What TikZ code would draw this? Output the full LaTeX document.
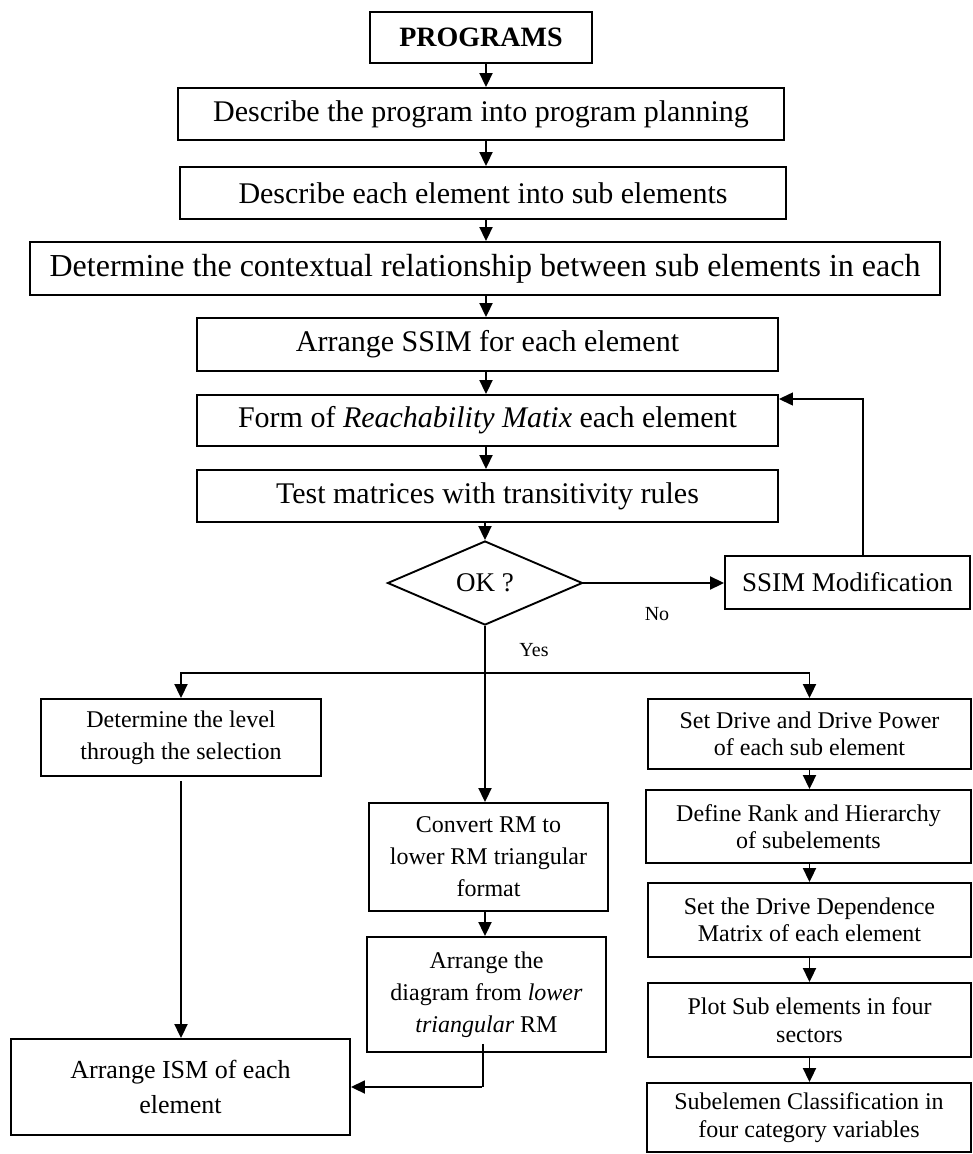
\documentclass[tikz,border=0pt]{standalone}
\usepackage{fontspec}
\setmainfont{Liberation Serif}
\usetikzlibrary{arrows.meta,shapes.geometric,calc}
\begin{document}
\begin{tikzpicture}[x=1pt,y=-1pt,
  box/.style={draw,rectangle,line width=1.9pt,inner sep=0pt,align=center},
  bigtxt/.style={font=\fontsize{30}{34}\selectfont},
  midtxt/.style={font=\fontsize{24}{32}\selectfont},
  lowtxt/.style={font=\fontsize{24}{27.5}\selectfont},
  ismtxt/.style={font=\fontsize{26}{35}\selectfont},
  labeltxt/.style={font=\fontsize{20}{22}\selectfont,inner sep=0pt},
  flow/.style={line width=1.9pt,-{Triangle[length=14pt,width=13pt]}},
  thinflow/.style={line width=1.3pt,-{Triangle[length=14pt,width=13pt]}},
  thinline/.style={line width=1.3pt}
]
\useasboundingbox (0,0) rectangle (973,1154);

% main column
\node[box,font=\fontsize{28}{32}\selectfont,minimum width=222pt,minimum height=51pt] (b1) at (481,37.5) {\textbf{PROGRAMS}};
\node[box,bigtxt,minimum width=606pt,minimum height=52pt] (b2) at (481,114) {Describe the program into program planning};
\node[box,bigtxt,minimum width=606pt,minimum height=52pt] (b3) at (483,193) {Describe each element into sub elements};
\node[box,font=\fontsize{32}{36}\selectfont,minimum width=910pt,minimum height=53pt] (b4) at (485,268.5) {Determine the contextual relationship between sub elements in each};
\node[box,bigtxt,minimum width=581pt,minimum height=53pt] (b5) at (487.5,344.5) {Arrange SSIM for each element};
\node[box,bigtxt,minimum width=581pt,minimum height=51pt] (b6) at (487.5,420.5) {Form of \textit{Reachability Matix} each element};
\node[box,bigtxt,minimum width=581pt,minimum height=52pt] (b7) at (487.5,496) {Test matrices with transitivity rules};

% decision and correction loop
\node[draw,diamond,line width=1.9pt,inner sep=0pt,minimum width=195pt,minimum height=84pt,
      font=\fontsize{27}{30}\selectfont] (d) at (485,583) {OK ?};
\node[box,font=\fontsize{27}{30}\selectfont,minimum width=245pt,minimum height=53pt] (ssim) at (847.5,582.5) {SSIM Modification};

% left branch
\node[box,midtxt,minimum width=280pt,minimum height=77pt] (l1) at (181,737.5) {Determine the level\\through the selection};
\node[box,ismtxt,minimum width=339pt,minimum height=96pt] (l2) at (180.5,1087) {Arrange ISM of each\\element};

% middle branch
\node[box,midtxt,minimum width=239pt,minimum height=108pt] (m1) at (488.5,857) {Convert RM to\\lower RM triangular\\format};
\node[box,midtxt,minimum width=239pt,minimum height=115pt] (m2) at (486.5,994.5) {Arrange the\\diagram from \textit{lower}\\\textit{triangular} RM};

% right branch
\node[box,lowtxt,minimum width=323pt,minimum height=70pt] (r1) at (809.5,734) {Set Drive and Drive Power\\of each sub element};
\node[box,lowtxt,minimum width=325pt,minimum height=73pt] (r2) at (808.5,826.5) {Define Rank and Hierarchy\\of subelements};
\node[box,lowtxt,minimum width=323pt,minimum height=74pt] (r3) at (809.5,920) {Set the Drive Dependence\\Matrix of each element};
\node[box,lowtxt,minimum width=323pt,minimum height=74pt] (r4) at (809.5,1020) {Plot Sub elements in four\\sectors};
\node[box,lowtxt,minimum width=324pt,minimum height=69pt] (r5) at (809,1117.5) {Subelemen Classification in\\four category variables};

% connectors of the main column
\coordinate (spine) at (486,0);
\draw[flow] (b1.south -| spine) -- (b2.north -| spine);
\draw[flow] (b2.south -| spine) -- (b3.north -| spine);
\draw[flow] (b3.south -| spine) -- (b4.north -| spine);
\draw[flow] (b4.south -| spine) -- (b5.north -| spine);
\draw[flow] (b5.south -| spine) -- (b6.north -| spine);
\draw[flow] (b6.south -| spine) -- (b7.north -| spine);
\draw[flow] (b7.south -| d.north) -- (d.north);

% No: back to the reachability matrix
\draw[flow] (d.east) -- (ssim.west |- d.east);
\node[labeltxt] (no) at (657,614) {No};
\coordinate (fb) at (863,399);
\draw[thinflow] (ssim.north -| fb) -- (fb) -- (fb -| b6.east);

% Yes: three branches
\coordinate (split) at (486,673);
\draw[flow] (d.south) -- (d.south |- m1.north);
\draw[flow] (split) -- (split -| l1) -- (l1.north);
\draw[flow] (split) -- (split -| r1) -- (r1.north);
\node[labeltxt] (yes) at (534,650) {Yes};

% left and middle branches into the ISM
\draw[flow] ([yshift=-4pt]l1.south) -- (l1.south |- l2.north);
\draw[flow] (m1.south -| d.south) -- (m2.north -| d.south);
\coordinate (tk) at ($(m2.south)+(-3.5,-9)$);
\draw[thinline] (tk) -- (tk |- l2.east);
\draw[flow] ([xshift=-1pt]tk |- l2.east) -- (l2.east);

% right branch chain
\draw[flow] (r1.south -| r1) -- (r2.north -| r1);
\draw[flow] (r2.south -| r1) -- (r3.north -| r1);
\draw[flow] (r3.south -| r1) -- (r4.north -| r1);
\draw[flow] (r4.south -| r1) -- (r5.north -| r1);
\end{tikzpicture}
\end{document}
